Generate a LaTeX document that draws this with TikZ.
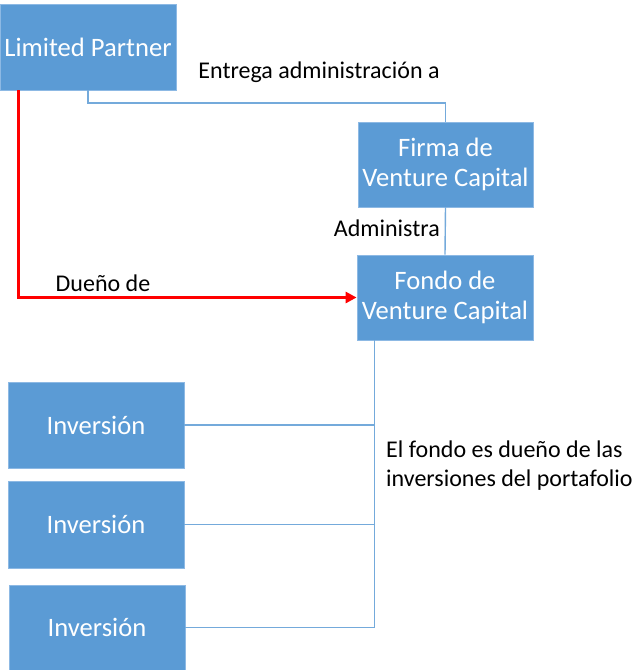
\documentclass[tikz,border=0pt]{standalone}
\usepackage{fontspec}
\setmainfont{Carlito}
\usepackage{tikz}
\usetikzlibrary{arrows.meta}
\definecolor{vcblue}{HTML}{5B9BD5}
\definecolor{vcedge}{HTML}{8DB9E4}
\tikzstyle{vcbox} = [draw=vcedge, fill=vcblue, line width=0.8pt, rectangle, text=white, align=center, inner sep=2pt, font=\fontsize{26.6}{30}\selectfont]
\tikzstyle{vcline} = [draw=vcblue!85, line width=1.4pt]
\tikzstyle{ownline} = [draw=red, line width=3pt, -{Triangle[length=11pt,width=11pt]}]
\tikzstyle{vclabel} = [text=black, font=\fontsize{24}{29}\selectfont, inner sep=0pt]

\begin{document}
\begin{tikzpicture}[x=1pt,y=-1pt]
\useasboundingbox (0,0) rectangle (633,670);
% boxes
\node [vcbox, minimum width=176pt, minimum height=86pt] (lp) at (88,47) {Limited Partner};
\node [vcbox, minimum width=175pt, minimum height=85pt] (firma) at (445.5,164.5) {Firma de\\Venture Capital};
\node [vcbox, minimum width=176pt, minimum height=85pt] (fondo) at (445,297.5) {Fondo de\\Venture Capital};
\node [vcbox, minimum width=176pt, minimum height=86pt] (inv1) at (96,425) {Inversión};
\node [vcbox, minimum width=176pt, minimum height=87pt] (inv2) at (96,524.5) {Inversión};
\node [vcbox, minimum width=176pt, minimum height=85pt] (inv3) at (97,627.5) {Inversión};
% connectors
\coordinate (turn) at (88,103);
\draw [vcline] (lp.south) -- (turn) -| (firma.north);
\draw [vcline] (firma.south) -- (fondo.north);
\draw [ownline] ([xshift=19pt]lp.south west) |- (fondo.west);
\coordinate (trunk) at ([xshift=18pt]fondo.south west);
\foreach \i in {1,2,3}
    \draw [vcline] (inv\i.east) -| (trunk);
% labels
\node [vclabel] (entrega) at (319,72) {Entrega administración a};
\node [vclabel, anchor=east] (adm) at (440,228) {Administra};
\node [vclabel] (duenio) at (103,283) {Dueño de};
\node [vclabel, anchor=west, align=left] (portafolio) at (386,466) {El fondo es dueño de las\\inversiones del portafolio};
\end{tikzpicture}
\end{document}
